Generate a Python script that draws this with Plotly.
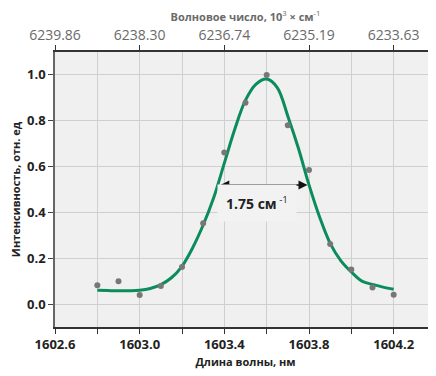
import plotly.graph_objects as go

# measured points
pt_x = [1602.8, 1602.9, 1603.0, 1603.1, 1603.2, 1603.3, 1603.4, 1603.5, 1603.6,
        1603.7, 1603.8, 1603.9, 1604.0, 1604.1, 1604.2]
pt_y = [0.082, 0.100, 0.040, 0.079, 0.162, 0.353, 0.661, 0.879, 1.000,
        0.780, 0.585, 0.262, 0.151, 0.072, 0.041]

# fitted curve
fit_x = [1602.80, 1602.85, 1602.90, 1602.95, 1603.00, 1603.05, 1603.10, 1603.15,
         1603.20, 1603.25, 1603.30, 1603.35, 1603.40, 1603.45, 1603.50, 1603.55,
         1603.60, 1603.65, 1603.70, 1603.75, 1603.80, 1603.85, 1603.90, 1603.95,
         1604.00, 1604.05, 1604.10, 1604.15, 1604.20]
fit_y = [0.060, 0.059, 0.058, 0.058, 0.060, 0.068, 0.085, 0.115,
         0.165, 0.245, 0.345, 0.465, 0.615, 0.765, 0.890, 0.960,
         0.982, 0.945, 0.820, 0.680, 0.520, 0.380, 0.265, 0.190,
         0.140, 0.100, 0.086, 0.074, 0.065]

bottom_ticks = [1602.6, 1602.8, 1603.0, 1603.2, 1603.4, 1603.6, 1603.8, 1604.0, 1604.2]
bottom_text = ["1602.6", "", "1603.0", "", "1603.4", "", "1603.8", "", "1604.2"]
top_ticks = [1602.6, 1603.0, 1603.4, 1603.8, 1604.2]
top_text = ["6239.86", "6238.30", "6236.74", "6235.19", "6233.63"]
y_ticks = [0.0, 0.2, 0.4, 0.6, 0.8, 1.0]
y_text = ["0.0", "0.2", "0.4", "0.6", "0.8", "1.0"]

fwhm_left, fwhm_right, fwhm_y = 1603.374, 1603.793, 0.52
fwhm_label = "<b>1.75 см</b><sup> -1</sup>"

FONT = "Open Sans"
green = "#0c8c5c"

fig = go.Figure()
fig.add_trace(go.Scatter(x=fit_x, y=fit_y, mode="lines",
                         line=dict(color=green, width=3, shape="spline", smoothing=1.0),
                         hoverinfo="skip", showlegend=False))
fig.add_trace(go.Scatter(x=pt_x, y=pt_y, mode="markers",
                         marker=dict(color="#777777", size=6),
                         showlegend=False))
# invisible trace for top axis
fig.add_trace(go.Scatter(x=[pt_x[0]], y=[pt_y[0]], xaxis="x2", mode="markers",
                         marker=dict(opacity=0), showlegend=False, hoverinfo="skip"))

fig.add_annotation(x=fwhm_right, y=fwhm_y, ax=fwhm_left, ay=fwhm_y,
                   xref="x", yref="y", axref="x", ayref="y",
                   text="", showarrow=True, arrowhead=2, startarrowhead=2,
                   arrowside="end+start", arrowsize=1.2, arrowwidth=1.5,
                   arrowcolor="#111111")
fig.add_annotation(x=1603.555, y=0.44, xref="x", yref="y", text=fwhm_label,
                   showarrow=False, bgcolor="#f2f2f2", borderpad=8,
                   font=dict(family=FONT, size=14, color="#222222"))

fig.update_layout(
    width=428, height=368,
    margin=dict(l=47, r=0, t=44, b=49),
    paper_bgcolor="white", plot_bgcolor="#f0f0f0",
    font=dict(family=FONT),
    xaxis=dict(range=[1602.6, 1604.4], tickvals=bottom_ticks, ticktext=bottom_text,
               automargin=False,
               showgrid=True, gridcolor="#cfcfcf", gridwidth=1,
               zeroline=False, showline=True, linecolor="#333333", linewidth=1.5,
               ticks="outside", ticklen=5, tickcolor="#333333",
               tickfont=dict(family=FONT, size=13, color="#222222", weight="bold"),
               title=dict(text="<b>Длина волны, нм</b>", standoff=6,
                          font=dict(family=FONT, size=11, color="#222222"))),
    xaxis2=dict(overlaying="x", side="top", matches="x", range=[1602.6, 1604.4],
                automargin=False,
                tickvals=top_ticks, ticktext=top_text, showgrid=False, zeroline=False,
                showline=True, linecolor="#333333", linewidth=1.5,
                ticks="outside", ticklen=5, tickcolor="#333333",
                tickfont=dict(family=FONT, size=14, color="#6a6a6a"),
                title=dict(text="<b>Волновое число, 10</b><sup>3</sup><b> × см</b><sup>-1</sup>",
                           standoff=4, font=dict(family=FONT, size=11, color="#6a6a6a"))),
    yaxis=dict(range=[-0.1, 1.1], tickvals=y_ticks, ticktext=y_text,
               automargin=False,
               showgrid=True, gridcolor="#cfcfcf", gridwidth=1,
               zeroline=False, showline=True, linecolor="#666666", linewidth=1.5,
               ticks="outside", ticklen=5, tickcolor="#444444",
               tickfont=dict(family=FONT, size=13, color="#222222", weight="bold"),
               title=dict(text="<b>Интенсивность, отн. ед</b>", standoff=6,
                          font=dict(family=FONT, size=11, color="#222222"))),
)

fig.write_html("out.html")
